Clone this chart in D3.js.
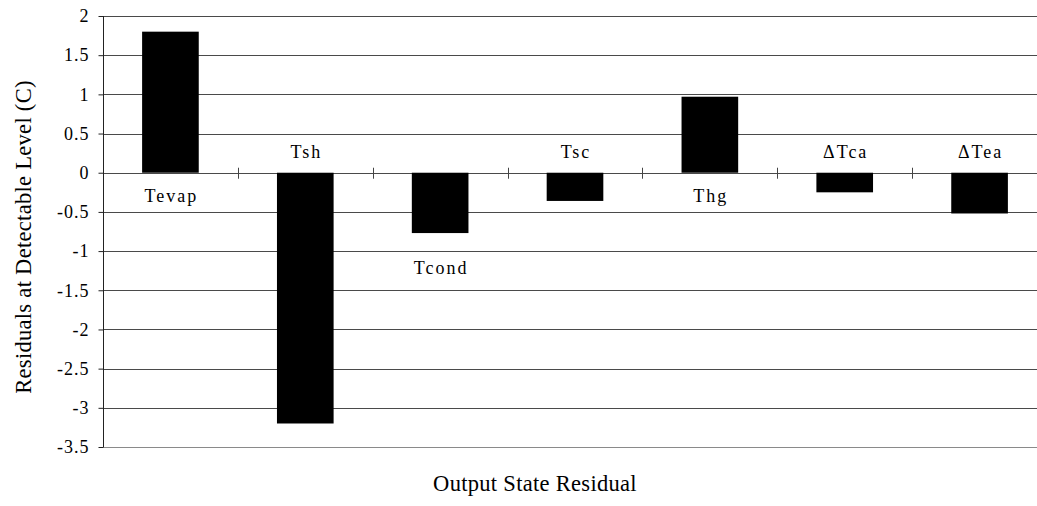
<!DOCTYPE html>
<html lang="en">
<head>
<meta charset="UTF-8">
<title>Residuals at Detectable Level</title>
<script src="https://cdn.jsdelivr.net/npm/d3@7/dist/d3.min.js"></script>
<style>
    body { margin: 0; background: #fff; }
    svg text { font-family: "Liberation Serif", "Times New Roman", serif; fill: #000; }
    .grid line { stroke: #4a4a4a; stroke-width: 1; }
    .bar { fill: #000; }
    .lbl { font-size: 18px; letter-spacing: 2px; }
    .ytick { font-size: 18px; letter-spacing: 1px; }
    .title { font-size: 22.5px; letter-spacing: 0.3px; }
</style>
</head>
<body>
<div id="chart"></div>
<script>
    /* global d3 */

    var categories = ["Tevap", "Tsh", "Tcond", "Tsc", "Thg", "\u0394Tca", "\u0394Tea"];
    var residuals = [1.8, -3.2, -0.77, -0.36, 0.97, -0.25, -0.52];
    var yTicks = [2, 1.5, 1, 0.5, 0, -0.5, -1, -1.5, -2, -2.5, -3, -3.5];

    var width = 1037, height = 506;
    var margin = {top: 16, left: 103};
    var plotRight = 1047, plotBottom = 447;

    var svg = d3.select("#chart").append("svg")
        .attr("width", width)
        .attr("height", height);

    var x = d3.scaleBand()
        .domain(categories)
        .range([margin.left, plotRight])
        .paddingInner(0.58)
        .paddingOuter(0.29);

    var y = d3.scaleLinear()
        .domain([-3.5, 2])
        .range([plotBottom, margin.top]);

    // horizontal gridlines
    svg.append("g")
        .attr("class", "grid")
        .selectAll("line")
        .data(yTicks.filter(function (d) { return d !== -3.5; }))
        .enter().append("line")
        .attr("x1", margin.left)
        .attr("x2", plotRight)
        .attr("y1", function (d) { return Math.round(y(d)) + 0.5; })
        .attr("y2", function (d) { return Math.round(y(d)) + 0.5; });

    // bottom border
    svg.append("line")
        .attr("x1", margin.left).attr("x2", plotRight)
        .attr("y1", Math.round(y(-3.5)) + 0.5).attr("y2", Math.round(y(-3.5)) + 0.5)
        .attr("stroke", "#8a8a8a");

    // bars
    svg.append("g")
        .selectAll("rect")
        .data(residuals)
        .enter().append("rect")
        .attr("class", "bar")
        .attr("x", function (d, i) { return x(categories[i]); })
        .attr("width", x.bandwidth())
        .attr("y", function (d) { return y(Math.max(0, d)); })
        .attr("height", function (d) { return Math.abs(y(d) - y(0)); });

    // y axis
    var yAxis = d3.axisLeft(y)
        .tickValues(yTicks)
        .tickFormat(function (d) { return d; })
        .tickSize(5)
        .tickPadding(9);

    var ya = svg.append("g")
        .attr("transform", "translate(" + (margin.left + 0.5) + ",0)")
        .call(yAxis)
        .attr("font-family", null)
        .attr("font-size", null);
    ya.select(".domain").attr("stroke", "#222").attr("d", "M0," + y(2) + "V" + y(-3.5));
    ya.selectAll(".tick line").attr("stroke", "#222");
    ya.selectAll(".tick text").attr("class", "ytick");

    // category ticks on the zero line
    var step = x.step();
    svg.append("g")
        .selectAll("line")
        .data(categories.slice(1))
        .enter().append("line")
        .attr("x1", function (d) { return Math.round(x(d) - x.paddingInner() * step / 2) + 0.5; })
        .attr("x2", function (d) { return Math.round(x(d) - x.paddingInner() * step / 2) + 0.5; })
        .attr("y1", y(0) - 5)
        .attr("y2", y(0) + 6)
        .attr("stroke", "#444");

    // category labels
    svg.append("g")
        .selectAll("text")
        .data(categories)
        .enter().append("text")
        .attr("class", "lbl")
        .attr("text-anchor", "middle")
        .attr("x", function (d) { return x(d) + x.bandwidth() / 2 + 1; })
        .attr("y", function (d, i) {
            var v = residuals[i];
            if (d === "Tcond") return y(v) + 41;
            return v > 0 ? y(0) + 29 : y(0) - 15;
        })
        .text(function (d) { return d; });

    // axis titles
    svg.append("text")
        .attr("class", "title")
        .attr("text-anchor", "middle")
        .attr("x", 535)
        .attr("y", 491)
        .text("Output State Residual");

    svg.append("text")
        .attr("class", "title")
        .attr("text-anchor", "middle")
        .attr("transform", "translate(31,237) rotate(-90)")
        .text("Residuals at Detectable Level (C)");
</script>
</body>
</html>
